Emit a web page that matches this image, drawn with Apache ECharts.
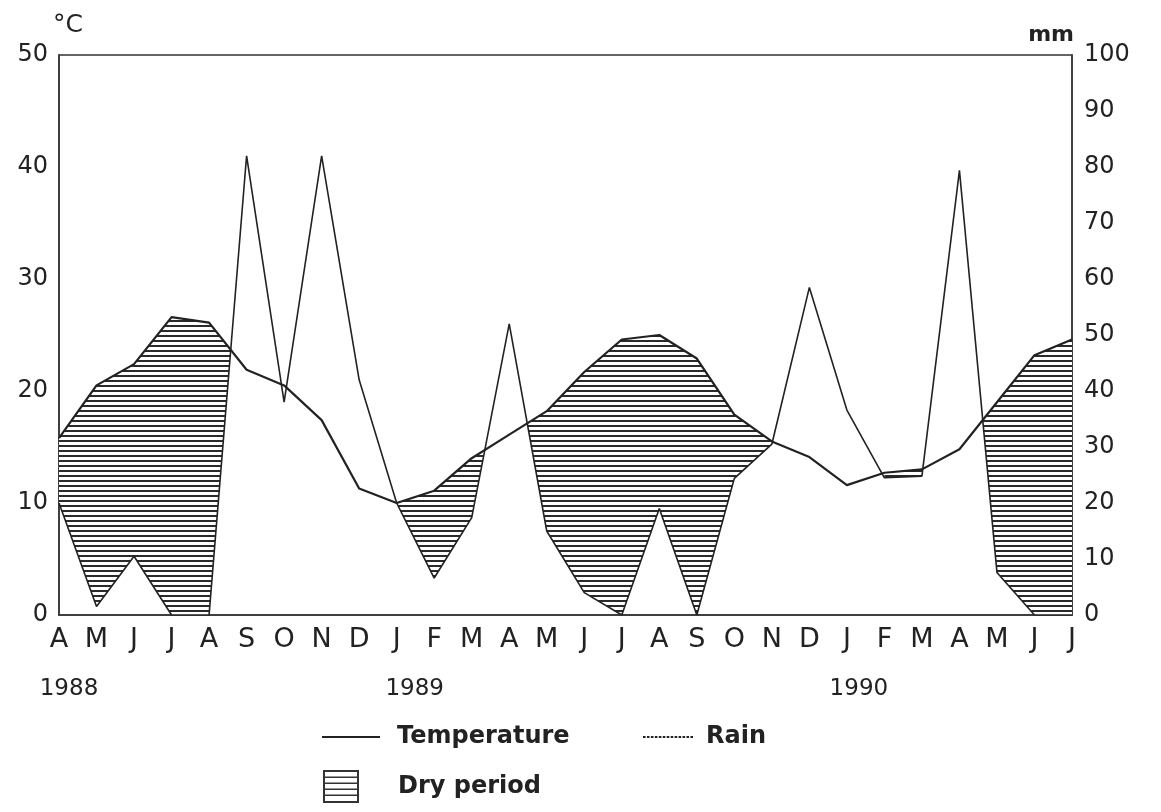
<!DOCTYPE html>
<html><head><meta charset="utf-8">
<script src="https://cdn.jsdelivr.net/npm/echarts@6/dist/echarts.min.js"></script>
<style>html,body{margin:0;padding:0;background:#fff}#c{width:1161px;height:812px}</style>
</head><body><div id="c"></div>
<script>
// ---------------- data ----------------
const months = ['A','M','J','J','A','S','O','N','D','J','F','M','A','M','J','J','A','S','O','N','D','J','F','M','A','M','J','J'];
const yearLabels = ['1988','1989','1990'];
const yearStartIndex = [0, 9, 21];
const temperature = [15.8, 20.5, 22.4, 26.6, 26.1, 21.9, 20.5, 17.4, 11.3, 10.0, 11.1, 14.0, 16.1, 18.2, 21.7, 24.6, 25.0, 22.9, 17.9, 15.5, 14.1, 11.6, 12.7, 13.0, 14.8, 19.0, 23.2, 24.6];
const rain = [20, 1.5, 10.5, 0, 0, 82, 38, 82, 42, 20, 6.6, 17.4, 52, 15, 4, 0, 19, 0, 24.4, 30.5, 58.5, 36.6, 24.5, 24.8, 79.4, 7.6, 0, 0];
// month-index ranges shaded as dry period in the figure
const dryRanges = [[0, 5], [9, 19], [22, 27]];
const tempTicks = { min: 0, max: 50, interval: 10 };
const rainTicks = { min: 0, max: 100, interval: 10 };

// ---------------- styling ----------------
const INK = '#222';
const FONT = 'DejaVu Sans';
const yearOffsets = [10, 18, 12];

const pat = document.createElement('canvas');
pat.width = 8; pat.height = 5;
const g = pat.getContext('2d');
g.fillStyle = '#ffffff'; g.fillRect(0, 0, 8, 5);
g.fillStyle = '#2a2a2a'; g.fillRect(0, 0, 8, 2);

const dryIcon = 'path://M0,0h36v2h-36z M0,31h36v2h-36z M0,0h2v33h-2z M34,0h2v33h-2z ' +
  'M0,6.5h36v1.6h-36z M0,12.5h36v1.6h-36z M0,18.5h36v1.6h-36z M0,24.5h36v1.6h-36z';
let dashPath = 'path://';
for (let x = 0; x < 50; x += 4) dashPath += 'M' + x + ',0h2.6v2h-2.6z ';

const chart = echarts.init(document.getElementById('c'), null, { renderer: 'canvas' });

const legendText = { fontFamily: FONT, fontWeight: 'bold', fontSize: 24, color: INK, lineHeight: 28 };

function dryRender(params, api) {
  const children = [];
  // Gaussen convention: P(mm) = 2·T(°C) — both axes share the same pixel span
  const T = i => api.coord([i, temperature[i] * 2]);
  const R = i => api.coord([i, rain[i]]);
  dryRanges.forEach(rg => {
    let cur = null;
    const pieces = [];
    for (let i = rg[0]; i < rg[1]; i++) {
      const t0 = T(i), r0 = R(i), t1 = T(i + 1), r1 = R(i + 1);
      const d0 = r0[1] - t0[1], d1 = r1[1] - t1[1];
      if (i === rg[0] && d0 >= 0) cur = { top: [t0], bot: [r0] };
      if (d0 >= 0 && d1 >= 0) {
        if (!cur) cur = { top: [t0], bot: [r0] };
        cur.top.push(t1); cur.bot.push(r1);
      } else if (d0 >= 0 && d1 < 0) {
        const f = d0 / (d0 - d1);
        const c = [t0[0] + f * (t1[0] - t0[0]), t0[1] + f * (t1[1] - t0[1])];
        if (!cur) cur = { top: [t0], bot: [r0] };
        cur.top.push(c); pieces.push(cur); cur = null;
      } else if (d0 < 0 && d1 >= 0) {
        const f = d0 / (d0 - d1);
        const c = [t0[0] + f * (t1[0] - t0[0]), t0[1] + f * (t1[1] - t0[1])];
        cur = { top: [c, t1], bot: [r1] };
      }
    }
    if (cur) pieces.push(cur);
    pieces.forEach(p => {
      children.push({
        type: 'polygon',
        shape: { points: p.top.concat(p.bot.slice().reverse()) },
        style: { fill: { image: pat, repeat: 'repeat' }, stroke: null }
      });
    });
  });
  return { type: 'group', children: children };
}

const option = {
  animation: false,
  backgroundColor: '#fff',
  grid: { left: 59, right: 89, top: 55, height: 560, show: true, borderColor: '#333', borderWidth: 1.5, backgroundColor: 'transparent' },
  xAxis: {
    type: 'category', data: months, boundaryGap: false,
    axisTick: { show: false },
    axisLine: { lineStyle: { color: '#333', width: 1.5 } },
    axisLabel: { interval: 0, fontFamily: FONT, fontSize: 27, color: INK, margin: 11 },
    splitLine: { show: false }
  },
  yAxis: [
    {
      type: 'value', position: 'left', min: tempTicks.min, max: tempTicks.max, interval: tempTicks.interval,
      name: '°C', nameLocation: 'end', nameGap: 30,
      nameTextStyle: { fontFamily: FONT, fontSize: 25, color: INK, align: 'left', verticalAlign: 'middle', padding: [0, 0, 0, -6] },
      axisLine: { show: true, lineStyle: { color: '#333', width: 1.5 } },
      axisTick: { show: false }, splitLine: { show: false },
      axisLabel: { fontFamily: FONT, fontSize: 24, color: INK, margin: 11 }
    },
    {
      type: 'value', position: 'right', min: rainTicks.min, max: rainTicks.max, interval: rainTicks.interval,
      name: 'mm', nameLocation: 'end', nameGap: 20,
      nameTextStyle: { fontFamily: FONT, fontWeight: 'bold', fontSize: 22, color: INK, align: 'right', verticalAlign: 'middle', padding: [0, -2, 0, 0] },
      axisLine: { show: true, lineStyle: { color: '#333', width: 1.5 } },
      axisTick: { show: false }, splitLine: { show: false },
      axisLabel: { fontFamily: FONT, fontSize: 24, color: INK, margin: 12 }
    }
  ],
  legend: [
    { data: [{ name: 'Temperature', icon: 'rect', itemStyle: { color: INK } }], left: 322, top: 723, padding: 0, itemWidth: 58, itemHeight: 2, selectedMode: false,
      textStyle: Object.assign({ padding: [0, 0, 0, 12] }, legendText) },
    { data: [{ name: 'Rain', icon: dashPath, itemStyle: { color: INK } }], left: 643, top: 723, padding: 0, itemWidth: 50, itemHeight: 2, selectedMode: false,
      textStyle: Object.assign({ padding: [0, 0, 0, 8] }, legendText) },
    { data: [{ name: 'Dry period', icon: dryIcon, itemStyle: { color: '#333' } }], left: 323, top: 770, padding: 0, itemWidth: 36, itemHeight: 33, selectedMode: false,
      textStyle: Object.assign({ padding: [0, 0, 0, 34] }, legendText) }
  ],
  series: [
    {
      name: 'Dry period', type: 'custom', xAxisIndex: 0, yAxisIndex: 1,
      data: [[0, 0]], z: 1, silent: true,
      itemStyle: { color: '#333' },
      renderItem: dryRender
    },
    {
      name: 'Temperature', type: 'line', yAxisIndex: 0, data: temperature,
      symbol: 'none', z: 3, lineStyle: { color: INK, width: 2.2 }, itemStyle: { color: INK }
    },
    {
      name: 'Rain', type: 'line', yAxisIndex: 1, data: rain,
      symbol: 'none', z: 4, lineStyle: { color: INK, width: 1.6 }, itemStyle: { color: INK }
    }
  ]
};
chart.setOption(option);

const yearGraphics = yearLabels.map((lab, k) => {
  const p = chart.convertToPixel({ xAxisIndex: 0 }, yearStartIndex[k]);
  return {
    type: 'text', x: p + yearOffsets[k], y: 689,
    style: { text: lab, fontFamily: FONT, fontSize: 23, fill: INK, align: 'center', verticalAlign: 'middle' }
  };
});
chart.setOption({ graphic: yearGraphics });
</script>
</body></html>
